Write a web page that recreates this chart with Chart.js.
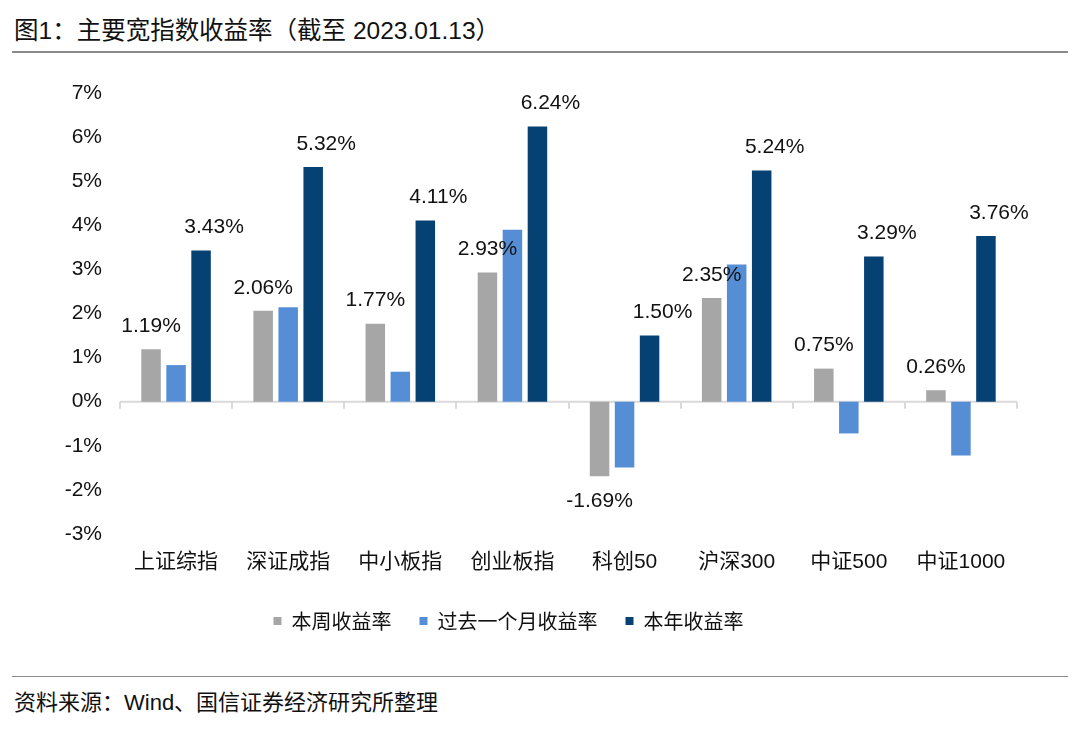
<!DOCTYPE html>
<html>
<head>
<meta charset="utf-8">
<script src="https://cdn.jsdelivr.net/npm/chart.js@4.4.1/dist/chart.umd.min.js"></script>
<style>
  html, body { margin:0; padding:0; background:#fff; }
  body { width:1080px; height:739px; position:relative; overflow:hidden; font-family:"Liberation Sans", "Noto Sans CJK SC", sans-serif; color:#111; }
  #title { position:absolute; left:14px; top:16px; font-size:24.5px; line-height:30px; white-space:nowrap; }
  #topline { position:absolute; left:12px; right:12px; top:51px; height:0; border-top:2px solid #8a8a8a; }
  #botline { position:absolute; left:12px; right:12px; top:676px; height:0; border-top:1.5px solid #8a8a8a; }
  #source { position:absolute; left:14px; top:688px; font-size:22px; line-height:30px; white-space:nowrap; }
  #wrap { position:absolute; left:0; top:60px; width:1080px; height:600px; }
</style>
</head>
<body>
<div id="title">图1：主要宽指数收益率（截至 2023.01.13）</div>
<div id="topline"></div>
<div id="wrap"><canvas id="c"></canvas></div>
<div id="botline"></div>
<div id="source">资料来源：Wind、国信证券经济研究所整理</div>
<script>
const categories = ['上证综指','深证成指','中小板指','创业板指','科创50','沪深300','中证500','中证1000']
const weekRet  = [1.19, 2.06, 1.77, 2.93, -1.69, 2.35, 0.75, 0.26]
const monthRet = [0.83, 2.14, 0.68, 3.90, -1.49, 3.11, -0.72, -1.22]
const yearRet  = [3.43, 5.32, 4.11, 6.24, 1.50, 5.24, 3.29, 3.76]
const seriesNames = ['本周收益率','过去一个月收益率','本年收益率']
const yTicks = [-3,-2,-1,0,1,2,3,4,5,6,7]

const NUM_FONT = '"Liberation Sans", "Noto Sans CJK SC", sans-serif'

// zero axis line + tick marks between categories
const zeroAxis = {
  id:'zeroAxis',
  beforeDatasetsDraw(chart){
    const {ctx, chartArea:a, scales:{x, y}} = chart
    const y0 = y.getPixelForValue(0)
    const half = (x.getPixelForValue(1) - x.getPixelForValue(0)) / 2
    ctx.save()
    ctx.strokeStyle = '#d9d9d9'
    ctx.lineWidth = 2
    ctx.beginPath()
    ctx.moveTo(a.left, y0); ctx.lineTo(a.right, y0)
    for(let i=0;i<=categories.length;i++){
      const px = Math.round(x.getPixelForValue(i) - half)
      ctx.moveTo(px, y0); ctx.lineTo(px, y0+7)
    }
    ctx.stroke()
    ctx.restore()
  }
}

// value labels for the week and year series
const valueLabels = {
  id:'valueLabels',
  afterDatasetsDraw(chart){
    const {ctx} = chart
    ctx.save()
    ctx.font = '21px ' + NUM_FONT
    ctx.fillStyle = '#111'
    ctx.textAlign = 'center'
    ctx.textBaseline = 'middle'
    const conf = [{ds:0, dx:0}, {ds:2, dx:13}]
    for(const c of conf){
      const meta = chart.getDatasetMeta(c.ds)
      meta.data.forEach((bar, i) => {
        const v = chart.data.datasets[c.ds].data[i]
        const ty = v >= 0 ? bar.y - 23 : bar.y + 25
        ctx.fillText(v.toFixed(2) + '%', bar.x + c.dx, ty)
      })
    }
    ctx.restore()
  }
}

new Chart(document.getElementById('c'), {
  type:'bar',
  data:{
    labels: categories,
    datasets:[
      {label:seriesNames[0], data:weekRet,  backgroundColor:'#a6a6a6'},
      {label:seriesNames[1], data:monthRet, backgroundColor:'#568ed6'},
      {label:seriesNames[2], data:yearRet,  backgroundColor:'#064174'}
    ]
  },
  options:{
    responsive:true,
    maintainAspectRatio:false,
    animation:false,
    datasets:{ bar:{ categoryPercentage:0.669, barPercentage:0.78 } },
    layout:{ padding:{ top:33, right:63, left:0, bottom:19 } },
    plugins:{
      tooltip:{ enabled:false },
      legend:{
        position:'bottom',
        labels:{
          boxWidth:8, boxHeight:8, padding:28, color:'#111',
          font:{ size:20, family:'"Noto Sans CJK SC", sans-serif' }
        }
      }
    },
    scales:{
      x:{
        grid:{ display:false, drawTicks:false },
        border:{ display:false },
        ticks:{ color:'#111', padding:16, font:{ size:21, family:NUM_FONT }, maxRotation:0 },
        afterFit(s){ s.height = 49 }
      },
      y:{
        min:-3, max:7,
        afterBuildTicks(s){ s.ticks = yTicks.map(v => ({value:v})) },
        grid:{ display:false, drawTicks:false },
        border:{ display:false },
        ticks:{ color:'#111', padding:18, font:{ size:21, family:NUM_FONT }, callback:v => v + '%' },
        afterFit(s){ s.width = 120 }
      }
    }
  },
  plugins:[zeroAxis, valueLabels]
})
</script>
</body>
</html>
